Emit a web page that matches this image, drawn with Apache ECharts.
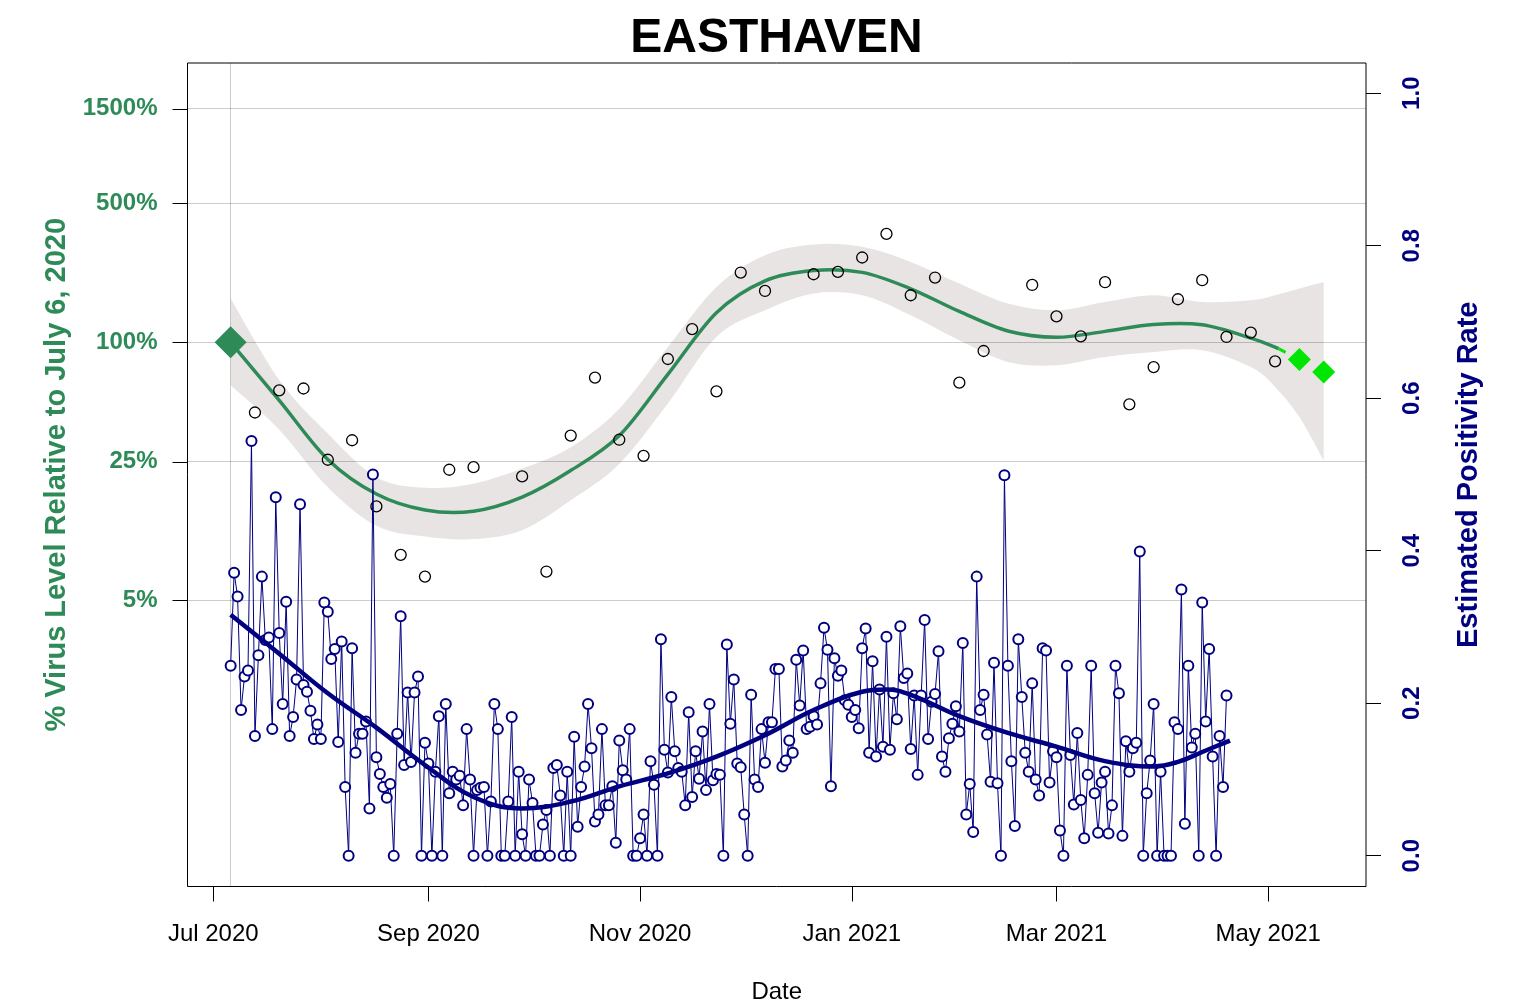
<!DOCTYPE html>
<html>
<head>
<meta charset="utf-8">
<title>EASTHAVEN</title>
<script src="https://cdn.jsdelivr.net/npm/echarts@6/dist/echarts.min.js"></script>
<style>
  html, body { margin: 0; padding: 0; background: #fff; }
  #chart { width: 1521px; height: 1005px; }
</style>
</head>
<body>
<div id="chart"></div>
<script>
const GREEN = '#2e8b57'
const LIME = '#00e600'
const NAVY = '#000080'
const BAND = '#e9e4e4'
const FONT = 'Liberation Sans, Arial, sans-serif'

// weekly virus level samples (% of July 6, 2020)
const virusDates = ['2020-07-13', '2020-07-20', '2020-07-27', '2020-08-03', '2020-08-10', '2020-08-17', '2020-08-24', '2020-08-31',
  '2020-09-07', '2020-09-14', '2020-09-28', '2020-10-05', '2020-10-12', '2020-10-19', '2020-10-26', '2020-11-02', '2020-11-09',
  '2020-11-16', '2020-11-23', '2020-11-30', '2020-12-07', '2020-12-21', '2020-12-28', '2021-01-04', '2021-01-11', '2021-01-18',
  '2021-01-25', '2021-02-01', '2021-02-08', '2021-02-22', '2021-03-01', '2021-03-08', '2021-03-15', '2021-03-22', '2021-03-29',
  '2021-04-05', '2021-04-12', '2021-04-19', '2021-04-26', '2021-05-03']
const virusPct = [44.3, 57.3, 58.5, 25.6, 32.1, 14.9, 8.5, 6.6, 22.8, 23.5, 21.1, 7.0, 33.9, 66.4, 32.3, 26.8, 82.4, 116.6, 56.6, 224.6,
  181.4, 220.2, 226.3, 267.5, 351.7, 172.6, 212.0, 62.6, 90.4, 194.5, 135.2, 107.2, 200.8, 48.7, 75.0, 164.8, 205.5, 106.4, 111.9, 80.2]

// smoothed fit and confidence band
const fitDates = ['2020-07-06', '2020-07-20', '2020-08-03', '2020-08-17', '2020-08-31', '2020-09-14', '2020-09-28', '2020-10-12',
  '2020-10-26', '2020-11-09', '2020-11-23', '2020-12-07', '2020-12-21', '2021-01-04', '2021-01-18', '2021-02-01', '2021-02-15',
  '2021-03-01', '2021-03-15', '2021-03-29', '2021-04-12', '2021-04-26', '2021-05-04']
const fitPct = [100, 51, 25.7, 17.2, 14.3, 14.1, 16.6, 22.6, 33.9, 69, 141, 204, 230, 225, 186, 143, 114, 106, 113.5, 123, 122.5, 105, 93]

const bandDates = ['2020-07-06', '2020-07-20', '2020-08-03', '2020-08-17', '2020-08-31', '2020-09-14', '2020-09-28', '2020-10-12',
  '2020-10-26', '2020-11-09', '2020-11-23', '2020-12-07', '2020-12-21', '2021-01-04', '2021-01-18', '2021-02-01', '2021-02-15',
  '2021-03-01', '2021-03-15', '2021-03-29', '2021-04-12', '2021-04-26', '2021-05-03', '2021-05-10', '2021-05-17']
const bandHigh = [166.7, 64.6, 34.7, 20.9, 18.5, 19.4, 23.1, 29.6, 46.3, 94.6, 190, 274.8, 311.2, 302.7, 254.1, 197.7, 156.7,
  144.9, 159.6, 172.6, 159.6, 162.9, 172.6, 186.6, 201.4]
const bandLow = [60.7, 36.3, 18.6, 11.9, 10.5, 10.2, 11.3, 16.0, 24.4, 49.1, 106.4, 144.9, 176.2, 172.6, 136.8, 102.3, 79.6,
  76.6, 84.3, 89.3, 91.2, 75.0, 59.6, 42.0, 25.4]

// projected points
const projDates = ['2021-05-10', '2021-05-17']
const projPct = [81.8, 70.8]

// daily estimated positivity rate, starting July 6, 2020
const posStart = '2020-07-06'
const posRate = [
  0.249, 0.371, 0.340, 0.191, 0.235, 0.243, 0.544, 0.157, 0.263, 0.366,
  0.283, 0.286, 0.166, 0.470, 0.292, 0.199, 0.333, 0.157, 0.182, 0.231,
  0.461, 0.224, 0.215, 0.190, 0.153, 0.172, 0.153, 0.332, 0.320, 0.258,
  0.271, 0.149, 0.281, 0.090, 0, 0.272, 0.135, 0.160, 0.160, 0.176,
  0.062, 0.500, 0.129, 0.107, 0.090, 0.076, 0.094, 0, 0.160, 0.314,
  0.119, 0.214, 0.123, 0.214, 0.235, 0, 0.148,
  0.121, 0, 0.110, 0.183, 0, 0.199, 0.082, 0.110, 0.100, 0.105,
  0.066, 0.166, 0.100, 0, 0.086, 0.089, 0.090, 0, 0.071, 0.199,
  0.166, 0, 0, 0.071, 0.182, 0, 0.110, 0.028, 0, 0.100,
  0.069, 0, 0, 0.041, 0.060, 0, 0.115, 0.119, 0.079, 0,
  0.110, 0, 0.156, 0.038, 0.090, 0.117, 0.199, 0.141, 0.045, 0.054,
  0.166, 0.066, 0.066, 0.091, 0.017, 0.151, 0.112, 0.100,
  0.166, 0, 0, 0.023, 0.054, 0, 0.124, 0.093, 0, 0.284,
  0.139, 0.109, 0.208, 0.137, 0.115, 0.110, 0.066, 0.188, 0.077, 0.137,
  0.101, 0.163, 0.086, 0.199, 0.099, 0.107, 0.106, 0, 0.277, 0.173,
  0.231, 0.121, 0.116, 0.054, 0, 0.211, 0.100, 0.090, 0.166, 0.122,
  0.175, 0.175, 0.245, 0.245, 0.117, 0.125, 0.151, 0.135, 0.257, 0.197,
  0.269, 0.166, 0.169, 0.183, 0.172, 0.226, 0.299, 0.270, 0.091, 0.259,
  0.236, 0.243, 0.204, 0.198, 0.182, 0.191, 0.167, 0.272, 0.298, 0.135,
  0.255, 0.130, 0.218, 0.143, 0.287, 0.139, 0.213, 0.179, 0.301, 0.233,
  0.239, 0.140, 0.210, 0.106, 0.210, 0.309, 0.153, 0.202, 0.212, 0.268,
  0.130, 0.110, 0.154, 0.173, 0.196, 0.163, 0.279, 0.054, 0.094, 0.031,
  0.366, 0.191, 0.211, 0.159, 0.097, 0.253, 0.095, 0, 0.499, 0.249,
  0.124, 0.039, 0.284, 0.208, 0.135, 0.110, 0.226, 0.100,
  0.079, 0.272, 0.269, 0.096, 0.137, 0.129, 0.033, 0, 0.249, 0.132,
  0.067, 0.161, 0.073, 0.023, 0.106, 0.249, 0.082, 0.030, 0.096, 0.110,
  0.029, 0.066, 0.249, 0.213, 0.026, 0.150, 0.110, 0.141, 0.148, 0.399,
  0, 0.082, 0.125, 0.199, 0, 0.110, 0, 0, 0, 0.175,
  0.166, 0.349, 0.042, 0.249, 0.142, 0.160, 0, 0.332, 0.176, 0.271,
  0.130, 0, 0.157, 0.090, 0.210
]

// smoothed positivity trend
const trendDates = ['2020-07-06', '2020-07-20', '2020-08-03', '2020-08-17', '2020-08-31', '2020-09-14', '2020-09-28', '2020-10-12',
  '2020-10-26', '2020-11-09', '2020-11-23', '2020-12-07', '2020-12-21', '2021-01-04', '2021-01-11', '2021-01-18', '2021-02-01',
  '2021-02-15', '2021-03-01', '2021-03-15', '2021-03-29', '2021-04-05', '2021-04-12', '2021-04-20']
const trendRate = [0.316, 0.265, 0.213, 0.168, 0.119, 0.077, 0.062, 0.071, 0.091, 0.108, 0.130, 0.158, 0.191, 0.215, 0.218,
  0.211, 0.183, 0.161, 0.143, 0.124, 0.117, 0.123, 0.136, 0.151]

const leftTicks = [1500, 500, 100, 25, 5]
const rightTicks = [0, 0.2, 0.4, 0.6, 0.8, 1.0]
const xTicks = ['2020-07-01', '2020-09-01', '2020-11-01', '2021-01-01', '2021-03-01', '2021-05-01']
const MONTHS = ['Jan', 'Feb', 'Mar', 'Apr', 'May', 'Jun', 'Jul', 'Aug', 'Sep', 'Oct', 'Nov', 'Dec']

const DAY = 864e5
const day = s => Date.parse(s + 'T00:00:00Z')
const lg = v => Math.log10(v)

const posData = posRate.map((v, i) => [day(posStart) + i * DAY, v])
const lastFit = [day(fitDates[fitDates.length - 1]), lg(fitPct[fitPct.length - 1])]

// cubic bezier segments through pixel points (catmull-rom style)
function curveThrough (pts) {
  let d = ''
  for (let i = 0; i < pts.length - 1; i++) {
    const p0 = pts[i - 1] || pts[i]
    const p1 = pts[i]
    const p2 = pts[i + 1]
    const p3 = pts[i + 2] || p2
    const k = 1 / 6
    d += ' C' + (p1[0] + (p2[0] - p0[0]) * k) + ',' + (p1[1] + (p2[1] - p0[1]) * k) +
      ' ' + (p2[0] - (p3[0] - p1[0]) * k) + ',' + (p2[1] - (p3[1] - p1[1]) * k) +
      ' ' + p2[0] + ',' + p2[1]
  }
  return d
}

function renderBand (params, api) {
  if (params.dataIndex !== 0) return
  const up = bandDates.map((d, i) => api.coord([day(d), lg(bandHigh[i])]))
  const low = bandDates.map((d, i) => api.coord([day(d), lg(bandLow[i])])).reverse()
  const path = 'M' + up[0][0] + ',' + up[0][1] + curveThrough(up) +
    ' L' + low[0][0] + ',' + low[0][1] + curveThrough(low) + ' Z'
  return { type: 'path', shape: { pathData: path }, style: { fill: BAND }, silent: true }
}

// the fit curve drawn the same way as the band edges
function renderFit (params, api) {
  if (params.dataIndex !== 0) return
  const pts = fitDates.map((d, i) => api.coord([day(d), lg(fitPct[i])]))
  const path = 'M' + pts[0][0] + ',' + pts[0][1] + curveThrough(pts)
  return {
    type: 'path',
    shape: { pathData: path },
    style: { fill: null, stroke: GREEN, lineWidth: 3.5 },
    silent: true
  }
}

const chart = echarts.init(document.getElementById('chart'), null, { renderer: 'canvas' })

chart.setOption({
  animation: false,
  backgroundColor: '#fff',
  textStyle: { fontFamily: FONT },
  grid: {
    left: 187.5, right: 155, top: 63, bottom: 118.5,
    outerBoundsMode: 'none',
    show: true, borderColor: '#000', borderWidth: 1, backgroundColor: 'transparent'
  },
  graphic: [{
    type: 'text', x: 776.5, y: 39,
    style: { text: 'EASTHAVEN', font: 'bold 48px ' + FONT, fill: '#000', textAlign: 'center', textVerticalAlign: 'middle' }
  }],
  xAxis: {
    // dates as UTC timestamps on a plain value axis
    type: 'value',
    min: day('2020-07-01') - 7.435 * DAY,
    max: day('2020-07-01') + 332.2 * DAY,
    axisLine: { show: false, onZero: false },
    axisTick: { show: true, length: 15, lineStyle: { color: '#000', width: 1 }, customValues: xTicks.map(day) },
    axisLabel: {
      customValues: xTicks.map(day), margin: 36, fontSize: 24, color: '#000', fontFamily: FONT,
      formatter: v => { const d = new Date(v); return MONTHS[d.getUTCMonth()] + ' ' + d.getUTCFullYear() }
    },
    splitLine: { show: false },
    name: 'Date', nameLocation: 'middle', nameGap: 94,
    nameTextStyle: { fontSize: 24, color: '#000', fontFamily: FONT }
  },
  yAxis: [{
    type: 'value',
    min: -0.7416, max: 3.4071,
    axisLine: { show: false, onZero: false },
    axisTick: { show: true, length: 15, lineStyle: { color: '#000', width: 1 }, customValues: leftTicks.map(lg) },
    axisLabel: {
      customValues: leftTicks.map(lg), margin: 30, fontSize: 24, fontWeight: 'bold', color: GREEN, fontFamily: FONT,
      formatter: v => Math.round(Math.pow(10, v)) + '%'
    },
    splitLine: { show: false },
    name: '% Virus Level Relative to July 6, 2020', nameLocation: 'middle', nameRotate: 90, nameGap: 115,
    nameTextStyle: { fontSize: 29, fontWeight: 'bold', color: GREEN, fontFamily: FONT }
  }, {
    type: 'value',
    position: 'right',
    min: -0.0404, max: 1.0396,
    axisLine: { show: false, onZero: false },
    axisTick: { show: true, length: 15, lineStyle: { color: '#000', width: 1 }, customValues: rightTicks },
    axisLabel: {
      customValues: rightTicks, rotate: 90, margin: 34, fontSize: 24, fontWeight: 'bold', color: NAVY, fontFamily: FONT,
      formatter: v => v.toFixed(1)
    },
    splitLine: { show: false },
    name: 'Estimated Positivity Rate', nameLocation: 'middle', nameRotate: 90, nameGap: 88,
    nameTextStyle: { fontSize: 29, fontWeight: 'bold', color: NAVY, fontFamily: FONT }
  }],
  series: [{
    name: 'band',
    type: 'custom',
    renderItem: renderBand,
    z: 1,
    silent: true,
    data: [[day(bandDates[0]), lg(bandHigh[0])]],
    markLine: {
      silent: true,
      z: 3,
      symbol: 'none',
      label: { show: false },
      lineStyle: { color: 'rgba(0,0,0,0.2)', width: 1, type: 'solid' },
      data: leftTicks.map(v => ({ yAxis: lg(v) })).concat([{ xAxis: day('2020-07-06') }])
    }
  }, {
    name: 'fit',
    type: 'custom',
    renderItem: renderFit,
    z: 4,
    silent: true,
    data: [[day(fitDates[0]), lg(fitPct[0])]]
  }, {
    name: 'projection',
    type: 'line',
    symbol: 'none',
    z: 4,
    lineStyle: { color: LIME, width: 3, type: [8, 14] },
    data: [lastFit].concat(projDates.map((d, i) => [day(d), lg(projPct[i])]))
  }, {
    name: 'base',
    type: 'scatter',
    symbol: 'diamond',
    symbolSize: 32,
    z: 5,
    itemStyle: { color: GREEN, opacity: 1 },
    data: [[day(fitDates[0]), lg(fitPct[0])]]
  }, {
    name: 'projected',
    type: 'scatter',
    symbol: 'diamond',
    symbolSize: 23,
    z: 5,
    itemStyle: { color: LIME, opacity: 1 },
    data: projDates.map((d, i) => [day(d), lg(projPct[i])])
  }, {
    name: 'virus',
    type: 'scatter',
    symbol: 'circle',
    symbolSize: 11,
    z: 5,
    itemStyle: { color: 'rgba(0,0,0,0)', borderColor: '#000', borderWidth: 1.3, opacity: 1 },
    data: virusDates.map((d, i) => [day(d), lg(virusPct[i])])
  }, {
    name: 'positivity',
    type: 'line',
    yAxisIndex: 1,
    symbol: 'emptyCircle',
    symbolSize: 10,
    showSymbol: true,
    z: 6,
    itemStyle: { color: NAVY, borderColor: NAVY, borderWidth: 1.2 },
    lineStyle: { color: NAVY, width: 1 },
    data: posData
  }, {
    name: 'trend',
    type: 'line',
    yAxisIndex: 1,
    smooth: 0.4,
    symbol: 'none',
    z: 7,
    lineStyle: { color: NAVY, width: 4.5 },
    data: trendDates.map((d, i) => [day(d), trendRate[i]])
  }]
})
</script>
</body>
</html>
